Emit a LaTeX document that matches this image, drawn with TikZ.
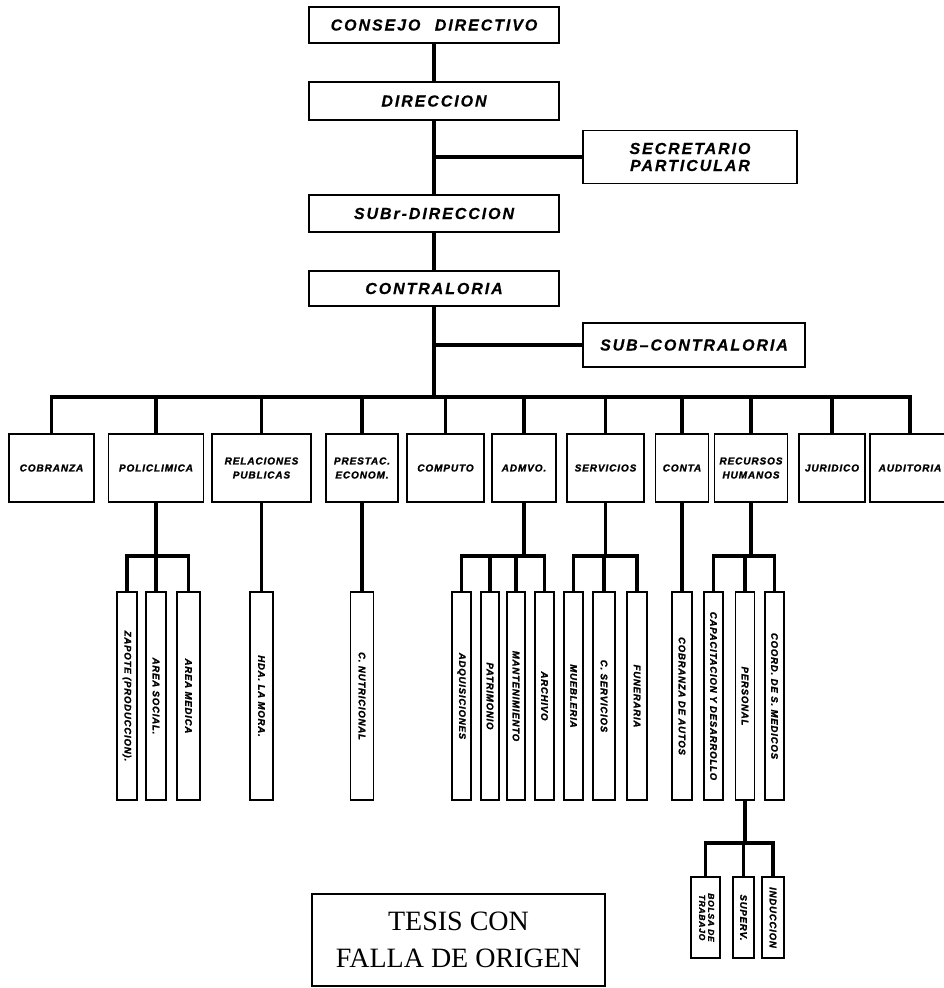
\documentclass[tikz,border=0pt]{standalone}
\usepackage{fontspec}
\setmainfont{Liberation Sans}
\newfontfamily\orgfont[LetterSpace=12, BoldItalicFeatures={FakeBold=0.4}]{Liberation Sans}
\newfontfamily\deptfont[LetterSpace=9, BoldItalicFeatures={FakeBold=1.6}]{Liberation Sans}
\newfontfamily\stampfont{Liberation Serif}
\usepackage{graphicx}
\usepackage{tikz}
\usetikzlibrary{calc,positioning}

\tikzset{
  topbox/.style={draw, line width=1.8pt, minimum width=250pt, inner sep=2pt, align=center,
    font=\orgfont\bfseries\itshape\fontsize{16}{17}\selectfont},
  deptbox/.style={draw, line width=1.8pt, minimum height=68pt, inner sep=1pt, align=center,
    font=\deptfont\bfseries\itshape\fontsize{10}{14}\selectfont},
  vbox/.style={draw, line width=1.8pt, minimum width=20pt, minimum height=208pt, inner sep=0pt,
    font=\deptfont\bfseries\itshape\fontsize{9.5}{11}\selectfont},
  smallbox/.style={vbox, minimum height=81pt},
  trunk/.style={line width=3.6pt},
  bus/.style={line width=3.2pt}
}

\begin{document}
\begin{tikzpicture}[x=1pt, y=-1pt]
  \useasboundingbox (0,0) rectangle (943,988);

  % Top of the chart
  \node[topbox, minimum height=36pt] (consejo) at (434,25) {CONSEJO\hspace{0.9em}DIRECTIVO};
  \node[topbox, minimum height=38pt] (direccion) at (434,101) {DIRECCION};
  \node[topbox, minimum width=214pt, minimum height=53pt] (secretario) at (690,157) {SECRETARIO\\PARTICULAR};
  \node[topbox, minimum height=37pt] (subdir) at (434,213.5) {SUBr-DIRECCION};
  \node[topbox, minimum height=35pt] (contraloria) at (434,288.5) {CONTRALORIA};
  \node[topbox, minimum width=222pt, minimum height=44pt] (subcontra) at (694,345) {SUB\textendash CONTRALORIA};
  \coordinate (bus) at (434,397);

  \draw[trunk] (consejo) -- (direccion);
  \draw[trunk] (direccion) -- (subdir);
  \draw[trunk] (subdir) -- (contraloria);
  \draw[trunk] (contraloria.south) -- (bus);
  \draw[bus] (secretario.west) -- (secretario.west -| direccion.south);
  \draw[bus] (subcontra.west) -- (subcontra.west -| contraloria.south);

  % Departments
  \node[deptbox, minimum width=85pt] (cobranza) at (51.5,468) {COBRANZA};
  \node[deptbox, minimum width=95pt] (policlinica) at (156,468) {POLICLIMICA};
  \node[deptbox, minimum width=99pt] (relaciones) at (261.5,468) {RELACIONES\\PUBLICAS};
  \node[deptbox, minimum width=72pt] (prestac) at (362,468) {PRESTAC.\\ECONOM.};
  \node[deptbox, minimum width=77pt] (computo) at (445.5,468) {COMPUTO};
  \node[deptbox, minimum width=64pt] (admvo) at (524,468) {ADMVO.};
  \node[deptbox, minimum width=77pt] (servicios) at (605.5,468) {SERVICIOS};
  \node[deptbox, minimum width=53pt] (conta) at (682,468) {CONTA};
  \node[deptbox, minimum width=73pt] (recursos) at (751,468) {RECURSOS\\HUMANOS};
  \node[deptbox, minimum width=66pt] (juridico) at (832,468) {JURIDICO};
  \node[deptbox, minimum width=80pt] (auditoria) at (910,468) {AUDITORIA};

  \draw[bus] (cobranza.north) |- (auditoria.north |- bus) -- (auditoria.north);
  \foreach \d in {policlinica,relaciones,prestac,computo,admvo,servicios,conta,recursos,juridico}
    \draw[bus] (\d.north) -- (\d.north |- bus);

  % Sections
  \node[vbox] (zapote) at (127,696) {\rotatebox{-90}{ZAPOTE (PRODUCCION).}};
  \node[vbox] (asocial) at (156,696) {\rotatebox{-90}{AREA SOCIAL.}};
  \node[vbox, minimum width=23pt] (amedica) at (188.5,696) {\rotatebox{-90}{AREA MEDICA}};
  \node[vbox, minimum width=23pt] (hda) at (261.5,696) {\rotatebox{-90}{HDA. LA MORA.}};
  \node[vbox, minimum width=23pt] (cnut) at (362,696) {\rotatebox{-90}{C. NUTRICIONAL}};
  \node[vbox, minimum width=19pt] (adq) at (461.5,696) {\rotatebox{-90}{ADQUISICIONES}};
  \node[vbox, minimum width=18pt] (patr) at (490,696) {\rotatebox{-90}{PATRIMONIO}};
  \node[vbox, minimum width=18pt] (mant) at (516,696) {\rotatebox{-90}{MANTENIMIENTO}};
  \node[vbox, minimum width=19pt] (arch) at (544.5,696) {\rotatebox{-90}{ARCHIVO}};
  \node[vbox, minimum width=19pt] (mueb) at (573.5,696) {\rotatebox{-90}{MUEBLERIA}};
  \node[vbox, minimum width=22pt] (cserv) at (604,696) {\rotatebox{-90}{C. SERVICIOS}};
  \node[vbox] (fun) at (637,696) {\rotatebox{-90}{FUNERARIA}};
  \node[vbox] (cobaut) at (682,696) {\rotatebox{-90}{COBRANZA DE AUTOS}};
  \node[vbox, minimum width=19pt] (capac) at (713.5,696) {\rotatebox{-90}{CAPACITACION Y DESARROLLO}};
  \node[vbox, minimum width=19pt] (personal) at (745,696) {\rotatebox{-90}{PERSONAL}};
  \node[vbox, minimum width=19pt] (coord) at (774.5,696) {\rotatebox{-90}{COORD. DE S. MEDICOS}};
  \coordinate (sbus) at (0,556);

  \draw[bus] (policlinica.south) -- (policlinica.south |- sbus);
  \draw[bus] (zapote.north) |- (amedica.north |- sbus) -- (amedica.north);
  \draw[bus] (asocial.north) -- (asocial.north |- sbus);
  \draw[bus] (relaciones.south) -- (hda.north);
  \draw[bus] (prestac.south) -- (cnut.north);
  \draw[bus] (admvo.south) -- (admvo.south |- sbus);
  \draw[bus] (adq.north) |- (arch.north |- sbus) -- (arch.north);
  \draw[bus] (patr.north) -- (patr.north |- sbus);
  \draw[bus] (mant.north) -- (mant.north |- sbus);
  \draw[bus] (servicios.south) -- (servicios.south |- sbus);
  \draw[bus] (mueb.north) |- (fun.north |- sbus) -- (fun.north);
  \draw[bus] (cserv.north) -- (cserv.north |- sbus);
  \draw[bus] (conta.south) -- (cobaut.north);
  \draw[bus] (recursos.south) -- (recursos.south |- sbus);
  \draw[bus] (capac.north) |- (coord.north |- sbus) -- (coord.north);
  \draw[bus] (personal.north) -- (personal.north |- sbus);

  % Under PERSONAL
  \node[smallbox, minimum width=29pt, font=\deptfont\bfseries\itshape\fontsize{8.5}{9}\selectfont] (bolsa) at (705.5,917.5)
    {\rotatebox{-90}{\begin{tabular}{@{}c@{}}BOLSA DE\\TRABAJO\end{tabular}}};
  \node[smallbox, minimum width=21pt] (superv) at (743.5,917.5) {\rotatebox{-90}{SUPERV.}};
  \node[smallbox, minimum width=22pt] (induccion) at (773,917.5) {\rotatebox{-90}{INDUCCION}};
  \coordinate (pbus) at (0,843);

  \draw[bus] (personal.south) -- (personal.south |- pbus);
  \draw[bus] (bolsa.north) |- (induccion.north |- pbus) -- (induccion.north);
  \draw[bus] (superv.north) -- (superv.north |- pbus);

  % Stamp
  \node[draw, line width=1.2pt, minimum width=293pt, minimum height=92pt, align=center,
    font=\stampfont\fontsize{28}{37}\selectfont] (stamp) at (458.5,940) {TESIS CON\\FALLA DE ORIGEN};
\end{tikzpicture}
\end{document}
